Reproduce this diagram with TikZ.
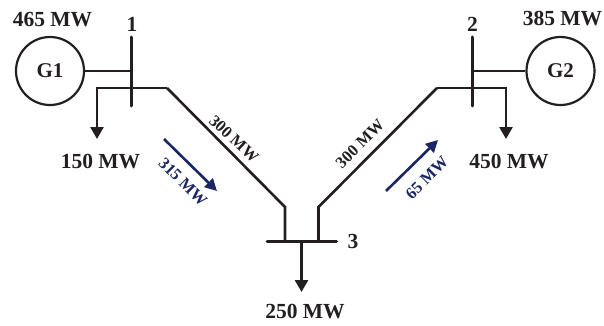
\documentclass[tikz,border=0pt]{standalone}
\usepackage{fontspec}
\setmainfont{Liberation Serif}
\usetikzlibrary{arrows.meta}
\definecolor{flowblue}{RGB}{27,38,100}
\definecolor{ink}{RGB}{35,31,32}
\tikzset{
  gen/.style={circle,draw=ink,line width=2.2pt,minimum size=68pt,inner sep=0pt,text=ink,font=\bfseries\fontsize{21}{23}\selectfont},
  lab/.style={text=ink,inner sep=0pt,font=\bfseries\fontsize{21.5}{23}\selectfont},
  linelab/.style={text=ink,inner sep=0pt,font=\bfseries\fontsize{16.5}{18}\selectfont},
  flowlab/.style={text=flowblue,inner sep=0pt,font=\bfseries\fontsize{16.5}{18}\selectfont},
  bus/.style={draw=ink,line width=3pt,line cap=round},
  wire/.style={draw=ink,line width=2.6pt,line join=miter},
  load/.style={draw=ink,line width=2.6pt,-{Triangle[length=12pt,width=13pt]}},
  flow/.style={draw=flowblue,line width=2.6pt,-{Triangle[length=12pt,width=12pt]}}
}
\begin{document}
\begin{tikzpicture}[x=1pt,y=-1pt]
\useasboundingbox (0,0) rectangle (604,326);
\node[gen] (G1) at (50,71) {G1};
\node[gen] (G2) at (560.5,71) {G2};
\coordinate (b1t) at (131.5,37);
\coordinate (b1b) at (131.5,106);
\coordinate (b1g) at (131.5,71);
\coordinate (b2t) at (472,37);
\coordinate (b2b) at (472,106);
\coordinate (b2g) at (472,71);
\coordinate (b3l) at (267,241);
\coordinate (b3r) at (336.5,241);
\coordinate (b3m) at (301.5,241);
\coordinate (l1) at (97,88);
\coordinate (l1e) at (97,139);
\coordinate (k1) at (167,88);
\coordinate (k1b) at (285,207);
\coordinate (k1c) at (285,241);
\coordinate (l2) at (506,88);
\coordinate (l2e) at (506,139);
\coordinate (k2) at (437,88);
\coordinate (k2b) at (318.5,207);
\coordinate (k2c) at (318.5,241);
\coordinate (l3e) at (301.5,292);
\coordinate (f1s) at (164,139);
\coordinate (f1e) at (217,191);
\coordinate (f2s) at (386,191);
\coordinate (f2e) at (438,140);
\draw[bus] (b1t) -- (b1b);
\draw[bus] (b2t) -- (b2b);
\draw[bus] (b3l) -- (b3r);
\draw[wire] (G1) -- (b1g);
\draw[wire] (G2) -- (b2g);
\draw[load] (k1) -- (l1) -- (l1e);
\draw[load] (k2) -- (l2) -- (l2e);
\draw[load] (b3m) -- (l3e);
\draw[wire] (k1) -- (k1b) -- (k1c);
\draw[wire] (k2) -- (k2b) -- (k2c);
\draw[flow] (f1s) -- (f1e);
\draw[flow] (f2s) -- (f2e);
\node[lab] (t1) at (52.5,20) {465 MW};
\node[lab] (t2) at (100.5,162) {150 MW};
\node[lab] (t3) at (562.5,19) {385 MW};
\node[lab] (t4) at (509,162) {450 MW};
\node[lab] (t5) at (305,312) {250 MW};
\node[lab] (n1) at (132,24) {1};
\node[lab] (n2) at (472.5,24) {2};
\node[lab] (n3) at (353,241) {3};
\node[linelab,rotate=-43] (t6) at (234,139) {300 MW};
\node[linelab,rotate=45] (t7) at (360,144) {300 MW};
\node[flowlab,rotate=-45] (t8) at (183,182) {315 MW};
\node[flowlab,rotate=45] (t9) at (427,178) {65 MW};
\end{tikzpicture}
\end{document}
